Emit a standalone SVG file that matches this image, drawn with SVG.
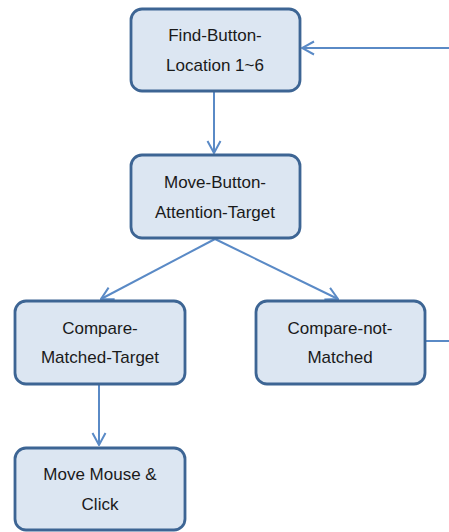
<svg xmlns="http://www.w3.org/2000/svg" width="449" height="532" viewBox="0 0 449 532">
  <defs>
    <marker id="arrow" viewBox="0 0 14 16" refX="13" refY="8" markerWidth="14" markerHeight="16" markerUnits="userSpaceOnUse" orient="auto">
      <path d="M1,1.5 L13,8 L1,14.5" fill="none" stroke="#5a8ac6" stroke-width="2"/>
    </marker>
  </defs>
  <style>
    .box { fill: #dce6f2; stroke: #3d6594; stroke-width: 2.8; }
    .lbl { font-family: "Liberation Sans", Arial, sans-serif; font-size: 17px; fill: #1a1a1a; text-anchor: middle; }
    .edge { fill: none; stroke: #5a8ac6; stroke-width: 2; }
  </style>
  <rect width="449" height="532" fill="#ffffff"/>

  <g id="connectors">
    <line class="edge" x1="214" y1="92" x2="214" y2="153" marker-end="url(#arrow)"/>
    <line class="edge" x1="215" y1="239" x2="101" y2="299" marker-end="url(#arrow)"/>
    <line class="edge" x1="215" y1="239" x2="338" y2="299" marker-end="url(#arrow)"/>
    <line class="edge" x1="99" y1="385" x2="99" y2="445" marker-end="url(#arrow)"/>
    <line class="edge" x1="425" y1="341" x2="449" y2="341"/>
    <line class="edge" x1="449" y1="48" x2="302" y2="48" marker-end="url(#arrow)"/>
  </g>

  <g id="find-button-location">
    <rect class="box" x="131" y="9" width="169" height="82" rx="11"/>
    <text class="lbl" x="215" y="41">Find-Button-</text>
    <text class="lbl" x="215" y="71">Location 1~6</text>
  </g>

  <g id="move-button-attention-target">
    <rect class="box" x="131" y="155" width="169" height="83" rx="11"/>
    <text class="lbl" x="215" y="188">Move-Button-</text>
    <text class="lbl" x="215" y="218">Attention-Target</text>
  </g>

  <g id="compare-matched-target">
    <rect class="box" x="15" y="301" width="170" height="83" rx="11"/>
    <text class="lbl" x="100" y="334">Compare-</text>
    <text class="lbl" x="100" y="363">Matched-Target</text>
  </g>

  <g id="compare-not-matched">
    <rect class="box" x="256" y="301" width="169" height="83" rx="11"/>
    <text class="lbl" x="340" y="334">Compare-not-</text>
    <text class="lbl" x="340" y="363">Matched</text>
  </g>

  <g id="move-mouse-click">
    <rect class="box" x="15" y="448" width="170" height="82" rx="11"/>
    <text class="lbl" x="100" y="480">Move Mouse &amp;</text>
    <text class="lbl" x="100" y="510">Click</text>
  </g>
</svg>
